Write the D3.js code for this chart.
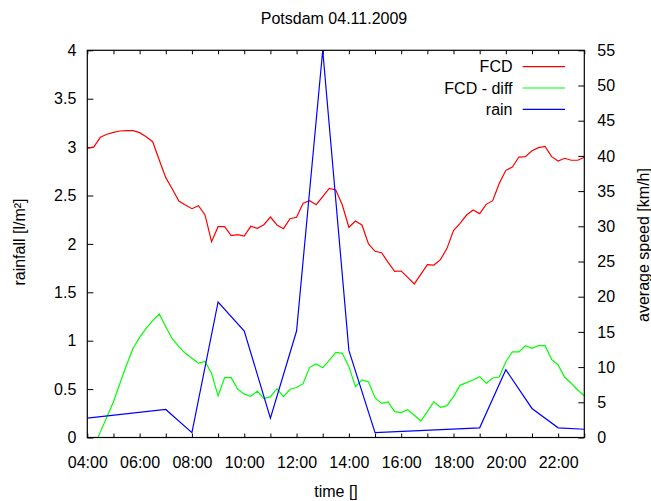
<!DOCTYPE html>
<html><head><meta charset="utf-8">
<script src="https://cdn.jsdelivr.net/npm/d3@7"></script>
<style>
body{margin:0;background:#fff}
text{font-family:"Liberation Sans",Arial,sans-serif;font-size:16px;fill:#000}
</style>
</head><body>
<svg id="chart" width="651" height="501"></svg>
<script>
// ---- data ----
const titleText = "Potsdam 04.11.2009";
const xTitle = "time []";
const yLeftTitle = "rainfall [l/m²]";
const yRightTitle = "average speed [km/h]";
const xTickHours = [4,6,8,10,12,14,16,18,20,22];
const xTickLabels = ["04:00","06:00","08:00","10:00","12:00","14:00","16:00","18:00","20:00","22:00"];
const yLeftTicks = [0,0.5,1,1.5,2,2.5,3,3.5,4];
const yRightTicks = [0,5,10,15,20,25,30,35,40,45,50,55];
const seriesNames = ["FCD","FCD - diff","rain"];
const seriesColors = ["#ff0000","#00ff00","#0000ff"];

// FCD, 15-minute samples 04:00 .. 23:00 (km/h)
const fcdStartHour = 4, fcdStepHours = 0.25;
const fcd = [41.08,41.27,42.64,43.07,43.35,43.54,43.58,43.58,43.30,42.73,
  42.02,39.42,36.91,35.30,33.60,33.03,32.50,32.93,31.61,27.82,
  29.95,29.95,28.67,28.81,28.62,30.0,29.71,30.23,31.32,30.19,
  29.66,31.08,31.28,33.27,33.64,33.07,34.21,35.38,35.16,33.03,
  29.86,30.75,30.19,27.49,26.45,26.25,24.88,23.61,23.65,22.75,
  21.81,23.18,24.55,24.50,25.26,26.87,29.38,30.42,31.6,32.32,
  31.8,33.12,33.64,36.1,37.95,38.42,39.84,39.89,40.74,41.17,
  41.36,39.89,39.28,39.66,39.38,39.38,39.80];
const fcdDiff = [-3,-1.4,0.8,2.9,5.09,7.7,10.3,12.67,14.23,15.5,
  16.6,17.54,15.74,13.99,12.9,11.96,11.25,10.54,10.8,9.12,
  5.92,8.5,8.5,6.87,6.16,5.85,6.58,5.52,5.8,6.9,
  5.82,6.85,7.1,7.65,9.97,10.44,9.9,10.95,12.1,11.96,
  10.06,7.22,8.17,7.88,5.66,4.85,5.04,3.67,3.53,3.95,
  3.15,2.34,3.67,5.09,4.29,4.52,5.8,7.41,7.79,8.17,
  8.64,7.7,8.45,8.59,10.77,12.15,12.15,13.04,12.67,13.04,
  13.04,11.1,10.3,8.55,7.7,6.75,5.94];
// rain (l/m²)
const rainHours = [4,7,8,9,10,11,12,13,14,15,19,20,21,22,23];
const rainValues = [0.2,0.29,0.05,1.4,1.1,0.2,1.1,4.0,0.9,0.05,0.1,0.7,0.3,0.1,0.085];

// ---- layout ----
const L = 87.3, R = 584.3, T = 50.3, B = 437.5;
const svg = d3.select("#chart");
const x = d3.scaleLinear().domain([4,23]).range([L,R]);
const yL = d3.scaleLinear().domain([0,4]).range([B,T]);
const yR = d3.scaleLinear().domain([0,55]).range([B,T]);

svg.append("defs").append("clipPath").attr("id","clip")
  .append("rect").attr("x",L).attr("y",T).attr("width",R-L).attr("height",B-T);

// axes
const hourTicks = d3.range(4,24,1);
const gx = svg.append("g").attr("transform",`translate(0,${B})`)
  .call(d3.axisBottom(x).tickValues(hourTicks).tickSize(-4).tickPadding(19)
    .tickFormat(d => { const i = xTickHours.indexOf(d); return i>=0 ? xTickLabels[i] : ""; }));
const gxt = svg.append("g").attr("transform",`translate(0,${T})`)
  .call(d3.axisTop(x).tickValues(hourTicks).tickSize(-4).tickFormat(""));
const gl = svg.append("g").attr("transform",`translate(${L},0)`)
  .call(d3.axisLeft(yL).tickValues(yLeftTicks).tickSize(-6).tickPadding(11).tickFormat(d=>String(d)));
const gr = svg.append("g").attr("transform",`translate(${R},0)`)
  .call(d3.axisRight(yR).tickValues(yRightTicks).tickSize(-6).tickPadding(13).tickFormat(d=>String(d)));
[gx,gxt,gl,gr].forEach(g=>{
  g.select(".domain").remove();
  g.selectAll(".tick line").attr("stroke","#000").attr("stroke-width",1);
  g.selectAll(".tick text").attr("font-size",16).attr("font-family","Liberation Sans, Arial, sans-serif").attr("fill","#000");
});

// lines
const fcdData = fcd.map((v,i)=>({h:fcdStartHour+i*fcdStepHours, v}));
const diffData = fcdDiff.map((v,i)=>({h:fcdStartHour+i*fcdStepHours, v}));
const rainData = rainHours.map((h,i)=>({h, v:rainValues[i]}));
const lineR = d3.line().x(d=>x(d.h)).y(d=>yR(d.v));
const lineL = d3.line().x(d=>x(d.h)).y(d=>yL(d.v));
const gLines = svg.append("g").attr("clip-path","url(#clip)");
gLines.append("path").datum(fcdData).attr("d",lineR).attr("fill","none").attr("stroke",seriesColors[0]).attr("stroke-width",1.2);
gLines.append("path").datum(diffData).attr("d",lineR).attr("fill","none").attr("stroke",seriesColors[1]).attr("stroke-width",1.2);
gLines.append("path").datum(rainData).attr("d",lineL).attr("fill","none").attr("stroke",seriesColors[2]).attr("stroke-width",1.2);

// border
svg.append("rect").attr("x",L).attr("y",T).attr("width",R-L).attr("height",B-T)
  .attr("fill","none").attr("stroke","#000").attr("stroke-width",1.2);

// legend
const legY = [66.7, 88.0, 109.3];
seriesNames.forEach((n,i)=>{
  svg.append("text").attr("x",512.5).attr("y",legY[i]+5.7).attr("text-anchor","end").text(n);
  svg.append("line").attr("x1",522.7).attr("x2",565).attr("y1",legY[i]).attr("y2",legY[i])
    .attr("stroke",seriesColors[i]).attr("stroke-width",1.2);
});

// titles
svg.append("text").attr("x",334).attr("y",24).attr("text-anchor","middle").text(titleText);
svg.append("text").attr("x",336).attr("y",497).attr("text-anchor","middle").text(xTitle);
svg.append("text").attr("transform","translate(25,242) rotate(-90)").attr("text-anchor","middle").text(yLeftTitle);
svg.append("text").attr("transform","translate(649,245) rotate(-90)").attr("text-anchor","middle").text(yRightTitle);
</script>
</body></html>
